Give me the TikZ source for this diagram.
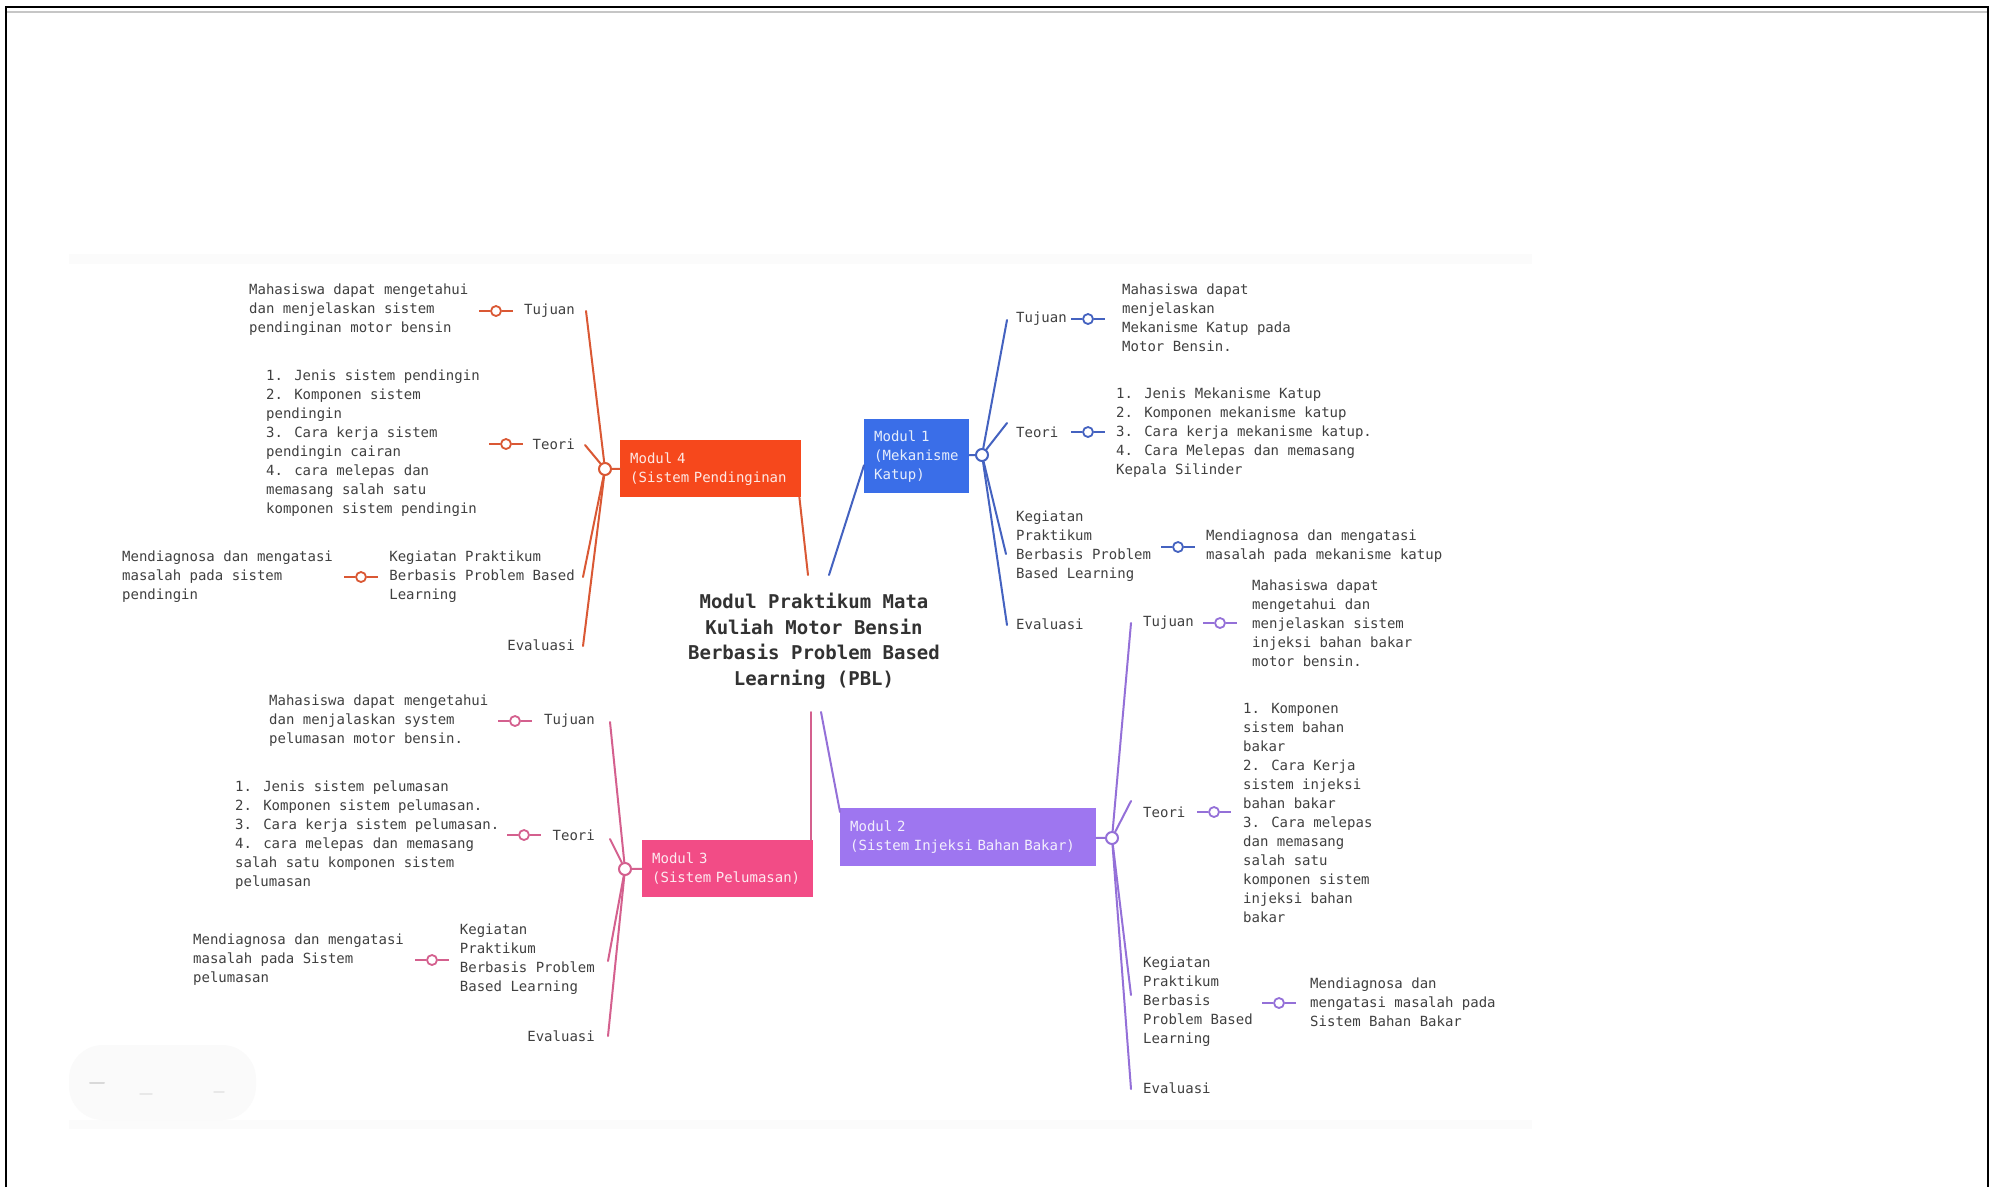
\documentclass[tikz,border=0pt]{standalone}
\usepackage{fontspec}
\setmainfont{DejaVu Sans Mono}
\usetikzlibrary{calc}
\definecolor{txtc}{RGB}{64,64,64}
\definecolor{titc}{RGB}{50,50,50}
\definecolor{c4box}{RGB}{246,72,28}
\definecolor{c4l}{RGB}{218,88,52}
\definecolor{c1box}{RGB}{58,110,232}
\definecolor{c1l}{RGB}{68,98,192}
\definecolor{c3box}{RGB}{242,76,134}
\definecolor{c3l}{RGB}{212,96,142}
\definecolor{c2box}{RGB}{158,118,240}
\definecolor{c2l}{RGB}{148,112,216}
\newcommand\cnx[4]{\node[conn,draw=#2] (#1) at (#3,#4) {};
  \draw[#2,line width=1.8pt] (#1.west) -- ++(-11,0) (#1.east) -- ++(11,0);}
\begin{document}
\begin{tikzpicture}[x=1pt,y=-1pt,
  txt/.style={inner sep=0pt, align=left, text=txtc, font=\fontsize{14}{19}\selectfont},
  hubc/.style={circle, draw, line width=2pt, fill=white, inner sep=0pt, minimum size=12pt},
  conn/.style={circle, line width=1.8pt, fill=white, inner sep=0pt, minimum size=10pt},
  mbox/.style={rectangle, inner xsep=10pt, inner ysep=0pt, align=left, anchor=north west,
    font=\fontsize{14}{19}\selectfont},
  br/.style={line width=2pt, line cap=round}]
\useasboundingbox (0,0) rectangle (1993,1187);
\fill[white] (0,0) rectangle (1993,1187);
% faint screenshot background
\fill[gray!3] (69,254) rectangle (1532,264);
\fill[gray!3] (69,1120) rectangle (1532,1129);
\fill[gray!4, rounded corners=34pt] (69,1045) rectangle (256,1120);
\draw[gray!30, line width=2pt, line cap=round] (90,1083) -- (104,1083);
\draw[gray!18, line width=1.5pt, line cap=round] (140,1094) -- (152,1094) (214,1092) -- (224,1092);
% frame
\draw[gray!45, line width=2pt] (7,12) -- (1987,12);
\draw[black, line width=2pt] (6,1187) -- (6,7) -- (1988,7) -- (1988,1187);

% title
\node[inner sep=0pt, align=center, text=titc, font=\bfseries\fontsize{19}{25.5}\selectfont] (title) at (814,641)
  {Modul Praktikum Mata\\Kuliah Motor Bensin\\Berbasis Problem Based\\Learning (PBL)};
\coordinate (t4) at (808,575);
\coordinate (t1) at (829,575);
\coordinate (t3) at (811,712);
\coordinate (t2) at (821,712);

% module boxes
\node[mbox, fill=c4box, text=white!88!c4box, minimum width=181pt, minimum height=57pt, text width=161pt] (m4) at (620,440)
  {Modul~4\\(Sistem~Pendinginan};
\node[mbox, fill=c1box, text=white!88!c1box, minimum width=105pt, minimum height=74pt, text width=85pt] (m1) at (864,419)
  {Modul~1\\(Mekanisme\\Katup)};
\node[mbox, fill=c3box, text=white!88!c3box, minimum width=171pt, minimum height=57pt, text width=151pt] (m3) at (642,840)
  {Modul~3\\(Sistem~Pelumasan)};
\node[mbox, fill=c2box, text=white!88!c2box, minimum width=256pt, minimum height=58pt, text width=236pt] (m2) at (840,808)
  {Modul~2\\(Sistem~Injeksi~Bahan~Bakar)};

% centre to modules
\draw[br, c4l] (t4) -- ([xshift=-2pt]m4.south east);
\draw[br, c1l] (t1) -- ([yshift=-9pt]m1.west);
\draw[br, c3l] (t3) -- (t3 |- m3.north);
\draw[br, c2l] (t2) -- ([yshift=-4pt]m2.north west);

% hubs
\node[hubc, draw=c4l] (h4) at (605,469) {};
\node[hubc, draw=c1l] (h1) at (982,455) {};
\node[hubc, draw=c3l] (h3) at (625,869) {};
\node[hubc, draw=c2l] (h2) at (1112,838) {};
\draw[br, c4l] (m4) -- (h4);
\draw[br, c1l] (m1) -- (h1);
\draw[br, c3l] (m3) -- (h3);
\draw[br, c2l] (m2) -- (h2);

% ---------- Modul 4 ----------
\node[txt, anchor=east] (L41) at (575,311) {Tujuan};
\node[txt, anchor=east] (L42) at (575,444) {Teori};
\node[txt, anchor=east] (L43) at (575,577) {Kegiatan Praktikum\\Berbasis Problem Based\\Learning};
\node[txt, anchor=east] (L44) at (575,645) {Evaluasi};
\node[txt, anchor=west] (T41) at (249,310) {Mahasiswa dapat mengetahui\\dan menjelaskan sistem\\pendinginan motor bensin};
\node[txt, anchor=west] (T42) at (266,443) {1. Jenis sistem pendingin\\2. Komponen sistem\\pendingin\\3. Cara kerja sistem\\pendingin cairan\\4. cara melepas dan\\memasang salah satu\\komponen sistem pendingin};
\node[txt, anchor=west] (T43) at (122,577) {Mendiagnosa dan mengatasi\\masalah pada sistem\\pendingin};
\coordinate (e41) at ($(L41.east)+(11,0)$);
\coordinate (e42) at ($(L42.east)+(10,1)$);
\coordinate (e43) at ($(L43.east)+(8,0)$);
\coordinate (e44) at ($(L44.east)+(8,1)$);
\foreach \e in {e41,e42,e43,e44} \draw[br, c4l] (h4) -- (\e);
\cnx{c41}{c4l}{496}{311}
\cnx{c42}{c4l}{506}{444}
\cnx{c43}{c4l}{361}{577}

% ---------- Modul 1 ----------
\node[txt, anchor=west] (L11) at (1016,319) {Tujuan};
\node[txt, anchor=west] (L12) at (1016,432) {Teori};
\node[txt, anchor=west] (L13) at (1016,546) {Kegiatan\\Praktikum\\Berbasis Problem\\Based Learning};
\node[txt, anchor=west] (L14) at (1016,624) {Evaluasi};
\node[txt, anchor=west] (T11) at (1122,318) {Mahasiswa dapat\\menjelaskan\\Mekanisme Katup pada\\Motor Bensin.};
\node[txt, anchor=west] (T12) at (1116,433) {1. Jenis Mekanisme Katup\\2. Komponen mekanisme katup\\3. Cara kerja mekanisme katup.\\4. Cara Melepas dan memasang\\Kepala Silinder};
\node[txt, anchor=west] (T13) at (1206,546) {Mendiagnosa dan mengatasi\\masalah pada mekanisme katup};
\coordinate (e11) at ($(L11.west)+(-9,1)$);
\coordinate (e12) at ($(L12.west)+(-9,-9)$);
\coordinate (e13) at ($(L13.west)+(-10,8)$);
\coordinate (e14) at ($(L14.west)+(-9,1)$);
\foreach \e in {e11,e12,e13,e14} \draw[br, c1l] (h1) -- (\e);
\cnx{c11}{c1l}{1088}{319}
\cnx{c12}{c1l}{1088}{432}
\cnx{c13}{c1l}{1178}{547}

% ---------- Modul 2 ----------
\node[txt, anchor=west] (L21) at (1143,623) {Tujuan};
\node[txt, anchor=west] (L22) at (1143,812) {Teori};
\node[txt, anchor=west] (L23) at (1143,1002) {Kegiatan\\Praktikum\\Berbasis\\Problem Based\\Learning};
\node[txt, anchor=west] (L24) at (1143,1088) {Evaluasi};
\node[txt, anchor=west] (T21) at (1252,623) {Mahasiswa dapat\\mengetahui dan\\menjelaskan sistem\\injeksi bahan bakar\\motor bensin.};
\node[txt, anchor=west] (T22) at (1243,813) {1. Komponen\\sistem bahan\\bakar\\2. Cara Kerja\\sistem injeksi\\bahan bakar\\3. Cara melepas\\dan memasang\\salah satu\\komponen sistem\\injeksi bahan\\bakar};
\node[txt, anchor=west] (T23) at (1310,1002) {Mendiagnosa dan\\mengatasi masalah pada\\Sistem Bahan Bakar};
\coordinate (e21) at ($(L21.west)+(-12,0)$);
\coordinate (e22) at ($(L22.west)+(-12,-11)$);
\coordinate (e23) at ($(L23.west)+(-12,-7)$);
\coordinate (e24) at ($(L24.west)+(-12,1)$);
\foreach \e in {e21,e22,e23,e24} \draw[br, c2l] (h2) -- (\e);
\cnx{c21}{c2l}{1220}{623}
\cnx{c22}{c2l}{1214}{812}
\cnx{c23}{c2l}{1279}{1003}

% ---------- Modul 3 ----------
\node[txt, anchor=east] (L31) at (595,721) {Tujuan};
\node[txt, anchor=east] (L32) at (595,835) {Teori};
\node[txt, anchor=east] (L33) at (595,959) {Kegiatan\\Praktikum\\Berbasis Problem\\Based Learning};
\node[txt, anchor=east] (L34) at (595,1036) {Evaluasi};
\node[txt, anchor=west] (T31) at (269,721) {Mahasiswa dapat mengetahui\\dan menjalaskan system\\pelumasan motor bensin.};
\node[txt, anchor=west] (T32) at (235,835) {1. Jenis sistem pelumasan\\2. Komponen sistem pelumasan.\\3. Cara kerja sistem pelumasan.\\4. cara melepas dan memasang\\salah satu komponen sistem\\pelumasan};
\node[txt, anchor=west] (T33) at (193,960) {Mendiagnosa dan mengatasi\\masalah pada Sistem\\pelumasan};
\coordinate (e31) at ($(L31.east)+(15,1)$);
\coordinate (e32) at ($(L32.east)+(15,4)$);
\coordinate (e33) at ($(L33.east)+(13,2)$);
\coordinate (e34) at ($(L34.east)+(13,0)$);
\foreach \e in {e31,e32,e33,e34} \draw[br, c3l] (h3) -- (\e);
\cnx{c31}{c3l}{515}{721}
\cnx{c32}{c3l}{524}{835}
\cnx{c33}{c3l}{432}{960}
\end{tikzpicture}
\end{document}
